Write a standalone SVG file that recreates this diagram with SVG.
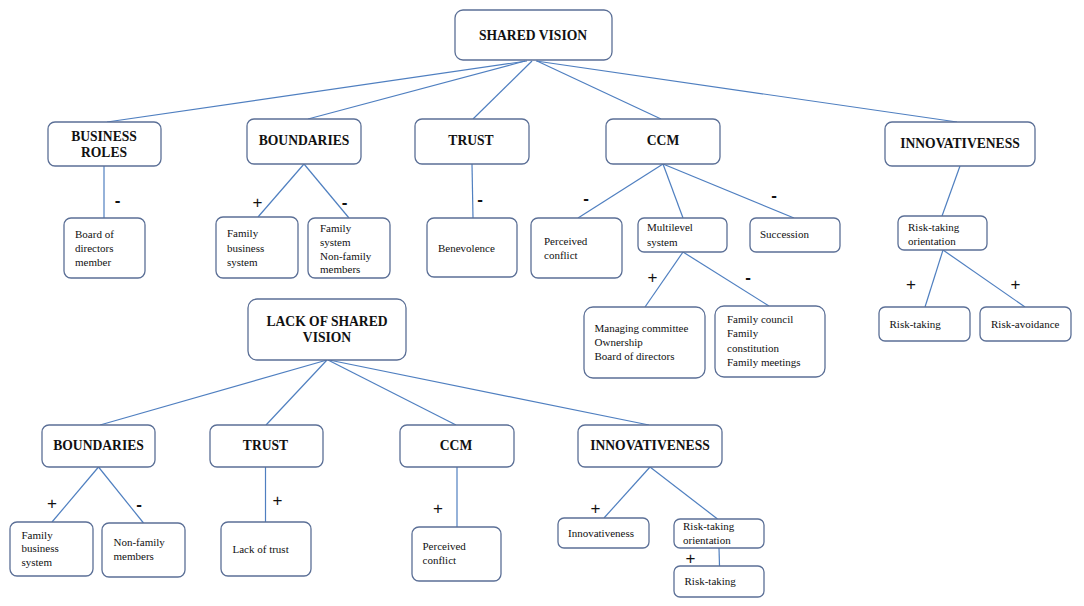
<svg xmlns="http://www.w3.org/2000/svg" width="1084" height="606" viewBox="0 0 1084 606">
<style>
.box{fill:#fff;stroke:#5b6f96;stroke-width:1.3}
.ln{stroke:#4f7fc0;stroke-width:1.2;fill:none}
.h{font-family:"Liberation Serif",serif;font-weight:bold;font-size:13.6px;fill:#111;text-anchor:middle}
.t{font-family:"Liberation Serif",serif;font-size:11px;fill:#111}
.s{font-family:"Liberation Sans",sans-serif;font-size:17px;fill:#111;text-anchor:middle}
.m{font-weight:bold}
</style>
<rect width="1084" height="606" fill="#fff"/>
<g id="connectors">
<line class="ln" x1="527" y1="61" x2="107" y2="122"/>
<line class="ln" x1="525" y1="61" x2="308" y2="119"/>
<line class="ln" x1="532" y1="61" x2="473" y2="119"/>
<line class="ln" x1="537" y1="61" x2="661" y2="119"/>
<line class="ln" x1="536" y1="61" x2="957" y2="122"/>
<line class="ln" x1="104" y1="166" x2="104" y2="218"/>
<line class="ln" x1="304" y1="164" x2="258" y2="217"/>
<line class="ln" x1="304" y1="164" x2="349" y2="218"/>
<line class="ln" x1="472" y1="164" x2="473" y2="218"/>
<line class="ln" x1="663" y1="164" x2="578" y2="218"/>
<line class="ln" x1="663" y1="164" x2="683" y2="218"/>
<line class="ln" x1="663" y1="164" x2="794" y2="218"/>
<line class="ln" x1="960" y1="166" x2="942" y2="216"/>
<line class="ln" x1="683" y1="252" x2="645" y2="307"/>
<line class="ln" x1="683" y1="252" x2="769" y2="306"/>
<line class="ln" x1="943" y1="250" x2="925" y2="307"/>
<line class="ln" x1="943" y1="250" x2="1025" y2="307"/>
<line class="ln" x1="327" y1="360" x2="100" y2="425"/>
<line class="ln" x1="327" y1="360" x2="266" y2="425"/>
<line class="ln" x1="328" y1="360" x2="456" y2="425"/>
<line class="ln" x1="329" y1="360" x2="649" y2="425"/>
<line class="ln" x1="98.5" y1="467" x2="52" y2="522"/>
<line class="ln" x1="98.5" y1="467" x2="143.5" y2="523"/>
<line class="ln" x1="265.5" y1="467" x2="265.5" y2="522"/>
<line class="ln" x1="457" y1="467" x2="457" y2="527"/>
<line class="ln" x1="650" y1="467" x2="604" y2="518"/>
<line class="ln" x1="650" y1="467" x2="717.5" y2="519"/>
<line class="ln" x1="719" y1="548" x2="719.5" y2="566"/>
</g>
<g id="signs">
<text class="s m" x="117.5" y="206">-</text>
<text class="s" x="257.5" y="208">+</text>
<text class="s m" x="344.5" y="208">-</text>
<text class="s m" x="480" y="205">-</text>
<text class="s m" x="586" y="204">-</text>
<text class="s m" x="774" y="201">-</text>
<text class="s" x="652.5" y="283">+</text>
<text class="s m" x="748" y="283">-</text>
<text class="s" x="911" y="290">+</text>
<text class="s" x="1015.5" y="290">+</text>
<text class="s" x="52" y="509">+</text>
<text class="s m" x="139" y="510">-</text>
<text class="s" x="277.5" y="506">+</text>
<text class="s" x="438" y="514">+</text>
<text class="s" x="595.5" y="514">+</text>
<text class="s" x="690.5" y="563.5">+</text>
</g>
<g id="shared-vision"><rect class="box" x="455" y="10" width="157" height="50" rx="8"/><text class="h" x="533" y="40">SHARED VISION</text></g>
<g id="business-roles"><rect class="box" x="48" y="122" width="113" height="44" rx="7"/><text class="h" x="104" y="140.5">BUSINESS</text><text class="h" x="104" y="156.5">ROLES</text></g>
<g id="boundaries-1"><rect class="box" x="247" y="119" width="114" height="45" rx="7"/><text class="h" x="304" y="145">BOUNDARIES</text></g>
<g id="trust-1"><rect class="box" x="415" y="119" width="114" height="45" rx="7"/><text class="h" x="471" y="145">TRUST</text></g>
<g id="ccm-1"><rect class="box" x="606" y="119" width="114" height="45" rx="7"/><text class="h" x="663" y="145">CCM</text></g>
<g id="innovativeness-1"><rect class="box" x="885" y="122" width="150" height="44" rx="7"/><text class="h" x="960" y="148">INNOVATIVENESS</text></g>
<g id="board-member"><rect class="box" x="64" y="218" width="81" height="60" rx="7"/><text class="t" x="75" y="237.5">Board of</text><text class="t" x="75" y="251.5">directors</text><text class="t" x="75" y="266">member</text></g>
<g id="family-business-1"><rect class="box" x="216" y="217" width="82" height="61" rx="7"/><text class="t" x="227" y="236.5">Family</text><text class="t" x="227" y="251.5">business</text><text class="t" x="227" y="265.5">system</text></g>
<g id="family-system"><rect class="box" x="308" y="218" width="82" height="60" rx="7"/><text class="t" x="320" y="231.5">Family</text><text class="t" x="320" y="245.5">system</text><text class="t" x="320" y="259.5">Non-family</text><text class="t" x="320" y="273">members</text></g>
<g id="benevolence"><rect class="box" x="427" y="218" width="90" height="59" rx="7"/><text class="t" x="438" y="251.5">Benevolence</text></g>
<g id="perceived-conflict-1"><rect class="box" x="531" y="218" width="91" height="60" rx="7"/><text class="t" x="544" y="244.5">Perceived</text><text class="t" x="544" y="258.5">conflict</text></g>
<g id="multilevel"><rect class="box" x="638" y="218" width="89" height="34" rx="6"/><text class="t" x="647" y="230.5">Multilevel</text><text class="t" x="647" y="245.5">system</text></g>
<g id="succession"><rect class="box" x="750" y="218" width="90" height="34" rx="6"/><text class="t" x="760" y="237.5">Succession</text></g>
<g id="risk-orientation-1"><rect class="box" x="898" y="216" width="89" height="34" rx="6"/><text class="t" x="908" y="230.5">Risk-taking</text><text class="t" x="908" y="244.5">orientation</text></g>
<g id="managing"><rect class="box" x="584" y="307" width="121" height="71" rx="9"/><text class="t" x="594.5" y="331.5">Managing committee</text><text class="t" x="594.5" y="345.5">Ownership</text><text class="t" x="594.5" y="359.5">Board of directors</text></g>
<g id="family-council"><rect class="box" x="715" y="306" width="110" height="71" rx="9"/><text class="t" x="727" y="322.5">Family council</text><text class="t" x="727" y="336.5">Family</text><text class="t" x="727" y="351.5">constitution</text><text class="t" x="727" y="365.5">Family meetings</text></g>
<g id="risk-taking-1"><rect class="box" x="879" y="307" width="91" height="34" rx="6"/><text class="t" x="889.5" y="327.5">Risk-taking</text></g>
<g id="risk-avoidance"><rect class="box" x="980" y="307" width="91" height="34" rx="6"/><text class="t" x="991" y="327.5">Risk-avoidance</text></g>
<g id="lack-shared-vision"><rect class="box" x="248" y="299" width="158" height="61" rx="9"/><text class="h" x="327" y="325.5">LACK OF SHARED</text><text class="h" x="327" y="341.5">VISION</text></g>
<g id="boundaries-2"><rect class="box" x="42" y="425" width="113" height="42" rx="7"/><text class="h" x="98.5" y="449.5">BOUNDARIES</text></g>
<g id="trust-2"><rect class="box" x="210" y="425" width="113" height="42" rx="7"/><text class="h" x="265.5" y="449.5">TRUST</text></g>
<g id="ccm-2"><rect class="box" x="400" y="425" width="114" height="42" rx="7"/><text class="h" x="456" y="449.5">CCM</text></g>
<g id="innovativeness-2"><rect class="box" x="578" y="425" width="144" height="42" rx="7"/><text class="h" x="650" y="449.5">INNOVATIVENESS</text></g>
<g id="family-business-2"><rect class="box" x="10" y="522" width="83" height="54" rx="7"/><text class="t" x="21.5" y="538.5">Family</text><text class="t" x="21.5" y="552">business</text><text class="t" x="21.5" y="566">system</text></g>
<g id="non-family"><rect class="box" x="102" y="523" width="83" height="54" rx="7"/><text class="t" x="113.5" y="546">Non-family</text><text class="t" x="113.5" y="560">members</text></g>
<g id="lack-of-trust"><rect class="box" x="221" y="522" width="90" height="54" rx="7"/><text class="t" x="232.5" y="552.5">Lack  of trust</text></g>
<g id="perceived-conflict-2"><rect class="box" x="412" y="527" width="89" height="54" rx="7"/><text class="t" x="422.5" y="550">Perceived</text><text class="t" x="422.5" y="564">conflict</text></g>
<g id="innovativeness-leaf"><rect class="box" x="558" y="518" width="91" height="30" rx="6"/><text class="t" x="568" y="536.5">Innovativeness</text></g>
<g id="risk-orientation-2"><rect class="box" x="674" y="519" width="90" height="29" rx="6"/><text class="t" x="683" y="530">Risk-taking</text><text class="t" x="683" y="544">orientation</text></g>
<g id="risk-taking-2"><rect class="box" x="674" y="566" width="90" height="31" rx="6"/><text class="t" x="684.5" y="585">Risk-taking</text></g>
</svg>
